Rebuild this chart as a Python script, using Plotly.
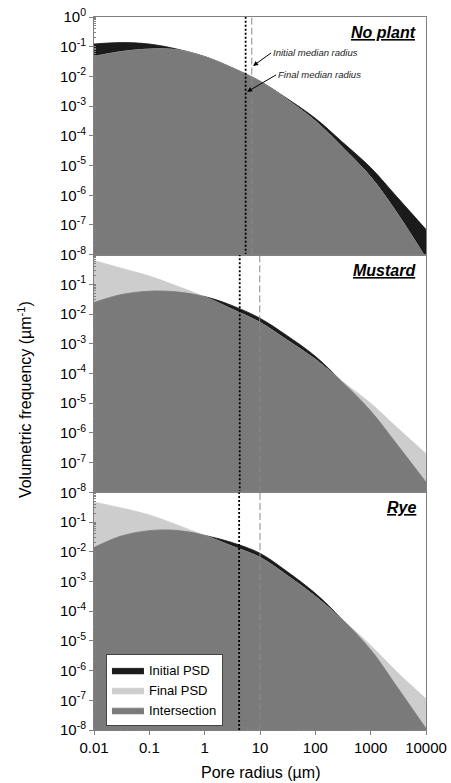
import numpy as np
import plotly.graph_objects as go
from plotly.subplots import make_subplots

# ---------------- data ----------------
radius = [0.01, 0.03, 0.1, 0.3, 1, 3, 10, 30, 100, 300, 1000, 3000, 10000]

noplant_initial = [0.123, 0.138, 0.123, 0.0851, 0.0468, 0.0204, 0.00692, 0.00186,
                   3.89e-4, 6.46e-5, 8.51e-6, 8.71e-7, 7.08e-8]
noplant_final = [0.0468, 0.0676, 0.0832, 0.0794, 0.0457, 0.0200, 0.00676, 0.00174,
                 3.16e-4, 4.37e-5, 4.17e-6, 2.51e-7, 7.6e-9]

mustard_initial = [0.0245, 0.0447, 0.0589, 0.0562, 0.0389, 0.0200, 0.00724, 0.00195,
                   3.80e-4, 5.37e-5, 5.50e-6, 4.07e-7, 2.19e-8]
mustard_final = [0.631, 0.355, 0.191, 0.0912, 0.0380, 0.0151, 0.00525, 0.00138,
                 3.02e-4, 5.62e-5, 1.0e-5, 1.51e-6, 2.0e-7]

rye_initial = [0.0138, 0.0331, 0.0513, 0.0525, 0.0355, 0.0209, 0.00891, 0.00224,
               3.98e-4, 5.50e-5, 5.01e-6, 2.82e-7, 1.12e-8]
rye_final = [0.468, 0.302, 0.174, 0.0832, 0.0355, 0.0158, 0.00646, 0.00166,
             3.16e-4, 5.50e-5, 7.08e-6, 8.91e-7, 1.12e-7]

panel_names = ["No plant", "Mustard", "Rye"]
median_initial = [7.1, 9.9, 10.0]   # dashed line
median_final = [5.5, 4.3, 4.2]      # dotted line

x_tickvals = [0.01, 0.1, 1, 10, 100, 1000, 10000]
x_ticktext = ["0.01", "0.1", "1", "10", "100", "1000", "10000"]
y_exponents = [0, -1, -2, -3, -4, -5, -6, -7, -8]

# ---------------- figure ----------------
FONT = "Arial, Liberation Sans, sans-serif"
C_INIT = "#1b1b1b"
C_FINAL = "#cdcdcd"
C_INTER = "#7a7a7a"
AXC = "#808080"

panels = [(noplant_initial, noplant_final),
          (mustard_initial, mustard_final),
          (rye_initial, rye_final)]

fig = make_subplots(rows=3, cols=1, shared_xaxes=True, vertical_spacing=0)

baseline = [1e-10] * len(radius)

for r, (ini, fin) in enumerate(panels, start=1):
    inter = list(np.minimum(np.array(ini), np.array(fin)))
    for name, ys, col in [("Initial PSD", ini, C_INIT),
                          ("Final PSD", fin, C_FINAL),
                          ("Intersection", inter, C_INTER)]:
        fig.add_trace(go.Scatter(x=radius, y=baseline, mode="lines",
                                 line=dict(width=0, color=col),
                                 showlegend=False, hoverinfo="skip"), row=r, col=1)
        fig.add_trace(go.Scatter(x=radius, y=ys, mode="lines", name=name,
                                 line=dict(width=0.8, color=col, shape="spline"),
                                 fill="tonexty", fillcolor=col,
                                 showlegend=(r == 3), legendgroup=name),
                      row=r, col=1)
    # median lines
    fig.add_trace(go.Scatter(x=[median_final[r - 1]] * 2, y=[1e-8, 1], mode="lines",
                             line=dict(color="black", width=1.8, dash="2px,2px"),
                             showlegend=False, hoverinfo="skip"), row=r, col=1)
    fig.add_trace(go.Scatter(x=[median_initial[r - 1]] * 2, y=[1e-8, 1], mode="lines",
                             line=dict(color="#8a8a8a", width=1, dash="7px,3px"),
                             showlegend=False, hoverinfo="skip"), row=r, col=1)

for r in range(1, 4):
    exps = y_exponents if r == 1 else y_exponents[1:]
    fig.update_yaxes(type="log", range=[-8, 0], automargin=False,
                     tickvals=[10.0 ** e for e in exps],
                     ticktext=["10<sup>%d</sup>" % e for e in exps],
                     ticks="outside", ticklen=4, tickcolor=AXC,
                     minor=dict(ticks="inside", ticklen=2, tickcolor=AXC, dtick="D1"),
                     showline=True, linecolor=AXC, linewidth=1, mirror=True,
                     showgrid=False, zeroline=False,
                     tickfont=dict(family=FONT, size=15, color="black"),
                     row=r, col=1)
    fig.update_xaxes(type="log", range=[-2, 4], automargin=False,
                     tickvals=x_tickvals, ticktext=x_ticktext,
                     showline=True, linecolor=AXC, linewidth=1, mirror=True,
                     showgrid=False, zeroline=False,
                     ticks="outside" if r == 3 else "",
                     ticklen=4, tickcolor=AXC,
                     minor=dict(ticks="inside" if r == 3 else "", ticklen=3,
                                tickcolor=AXC, dtick="D1"),
                     showticklabels=(r == 3),
                     tickfont=dict(family=FONT, size=15, color="black"),
                     row=r, col=1)

annotations = []
for r, name in enumerate(panel_names, start=1):
    xr = "x domain" if r == 1 else "x%d domain" % r
    yr = "y domain" if r == 1 else "y%d domain" % r
    annotations.append(dict(text="<b><i><u>%s</u></i></b>" % name, xref=xr, yref=yr,
                            x=0.976, y=0.935, xanchor="right", yanchor="middle",
                            showarrow=False,
                            font=dict(family=FONT, size=16, color="black")))

annotations.append(dict(text="<i>Initial median radius</i>", xref="x", yref="y",
                        x=0.875, y=-1.647, ax=18, ay=-13, xanchor="left", yanchor="middle",
                        showarrow=True, arrowhead=2, arrowsize=1, arrowwidth=1,
                        arrowcolor="black", font=dict(family=FONT, size=9.5, color="#222")))
annotations.append(dict(text="<i>Final median radius</i>", xref="x", yref="y",
                        x=0.767, y=-2.52, ax=29, ay=-17, xanchor="left", yanchor="middle",
                        showarrow=True, arrowhead=2, arrowsize=1, arrowwidth=1,
                        arrowcolor="black", font=dict(family=FONT, size=9.5, color="#222")))

annotations.append(dict(text="Volumetric frequency (µm<sup>-1</sup>)", xref="paper", yref="paper",
                        x=-0.208, y=0.464, xanchor="center", yanchor="middle",
                        textangle=-90, showarrow=False,
                        font=dict(family=FONT, size=16, color="black")))
annotations.append(dict(text="Pore radius (µm)", xref="paper", yref="paper",
                        x=0.503, y=-0.0603, xanchor="center", yanchor="middle",
                        showarrow=False, font=dict(family=FONT, size=16, color="black")))

fig.update_layout(
    width=451, height=783, autosize=False,
    margin=dict(l=94, r=25, t=17, b=53, pad=0, autoexpand=False),
    paper_bgcolor="white", plot_bgcolor="white",
    font=dict(family=FONT, color="black"),
    annotations=annotations,
    showlegend=True,
    legend=dict(x=0.036, y=0.106, xanchor="left", yanchor="top",
                bgcolor="white", bordercolor="#444", borderwidth=1,
                font=dict(family=FONT, size=13, color="black"),
                traceorder="normal", tracegroupgap=0, itemwidth=32),
)

fig.write_html("out.html",
               config={"displayModeBar": False, "responsive": False},
               post_script="document.body.style.margin='0';document.body.style.padding='0';"
                           "document.body.style.overflow='hidden';")
